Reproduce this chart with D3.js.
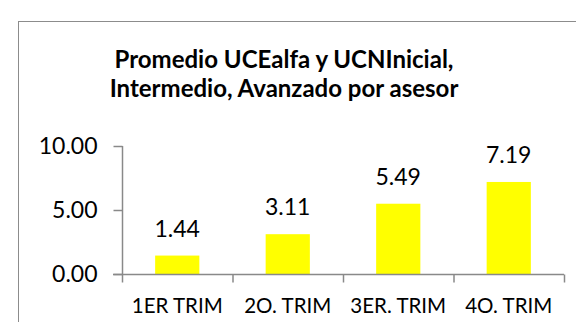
<!DOCTYPE html>
<html>
<head>
<meta charset="utf-8">
<script src="https://cdn.jsdelivr.net/npm/d3@7"></script>
<style>
  html, body { margin: 0; padding: 0; background: #fff; }
  svg { display: block; }
  text { font-family: Lato, "Open Sans", sans-serif; fill: #000; }
</style>
</head>
<body>
<svg id="chart" width="576" height="322"></svg>
<script>
// Average per advisor, by quarter
const categories = ["1ER TRIM", "2O. TRIM", "3ER. TRIM", "4O. TRIM"];
const values = [1.44, 3.11, 5.49, 7.19];
const yTicks = [0, 5, 10];
const titleLines = ["Promedio UCEalfa y UCNInicial,", "Intermedio, Avanzado por asesor"];

const svg = d3.select("#chart");

// chart frame (extends past the right and bottom edges)
svg.append("rect")
  .attr("x", 18.5).attr("y", 21.5)
  .attr("width", 600).attr("height", 340)
  .attr("fill", "#fff").attr("stroke", "#8c8c8c").attr("stroke-width", 1);

const plot = { left: 122, right: 564, top: 146, bottom: 274 };
const axisColor = "#898989";

const x = d3.scaleBand().domain(categories).range([plot.left, plot.right]).paddingInner(0).paddingOuter(0);
const y = d3.scaleLinear().domain([0, 10]).range([plot.bottom, plot.top]);

// title
const title = svg.append("text")
  .attr("text-anchor", "middle")
  .style("font-weight", "bold")
  .style("font-size", "24px");
titleLines.forEach((line, i) => {
  title.append("tspan").attr("x", 284).attr("y", 68 + i * 29).text(line);
});

// y axis
const yAxis = svg.append("g")
  .attr("transform", `translate(${plot.left + 0.5},0)`)
  .call(d3.axisLeft(y).tickValues(yTicks).tickFormat(d3.format(".2f")).tickSize(9).tickSizeOuter(0).tickPadding(16));
yAxis.select(".domain").remove();
yAxis.selectAll(".tick line").attr("stroke", axisColor).attr("stroke-width", 1.5);
yAxis.selectAll(".tick text").style("font-size", "23px").attr("fill", "#000").attr("font-family", null);
yAxis.append("line")
  .attr("x1", 0).attr("x2", 0)
  .attr("y1", plot.top).attr("y2", plot.bottom)
  .attr("stroke", axisColor).attr("stroke-width", 1.5);

// bars
const barW = x.bandwidth() * 0.4;
svg.append("g").selectAll("rect")
  .data(values)
  .join("rect")
  .attr("x", (d, i) => x(categories[i]) + (x.bandwidth() - barW) / 2)
  .attr("y", d => y(d))
  .attr("width", barW)
  .attr("height", d => y(0) - y(d))
  .attr("fill", "#ffff00");

// x axis: baseline, boundary ticks and category labels
const xAxis = svg.append("g").attr("transform", `translate(0,${plot.bottom + 0.5})`);
xAxis.append("line")
  .attr("x1", plot.left - 9).attr("x2", plot.right)
  .attr("stroke", axisColor).attr("stroke-width", 1.5);
const bounds = categories.map(c => x(c)).concat([plot.right]);
xAxis.selectAll("line.bound")
  .data(bounds)
  .join("line")
  .attr("class", "bound")
  .attr("x1", d => d + 0.5).attr("x2", d => d + 0.5)
  .attr("y1", 0).attr("y2", 8)
  .attr("stroke", axisColor).attr("stroke-width", 1.5);
xAxis.selectAll("text")
  .data(categories)
  .join("text")
  .attr("x", d => x(d) + x.bandwidth() / 2)
  .attr("y", 38.5)
  .attr("text-anchor", "middle")
  .style("font-size", "20.5px")
  .text(d => d);

// value labels
svg.append("g").selectAll("text")
  .data(values)
  .join("text")
  .attr("x", (d, i) => x(categories[i]) + x.bandwidth() / 2)
  .attr("y", d => y(d) - 19)
  .attr("text-anchor", "middle")
  .style("font-size", "23px")
  .text(d => d3.format(".2f")(d));
</script>
</body>
</html>
